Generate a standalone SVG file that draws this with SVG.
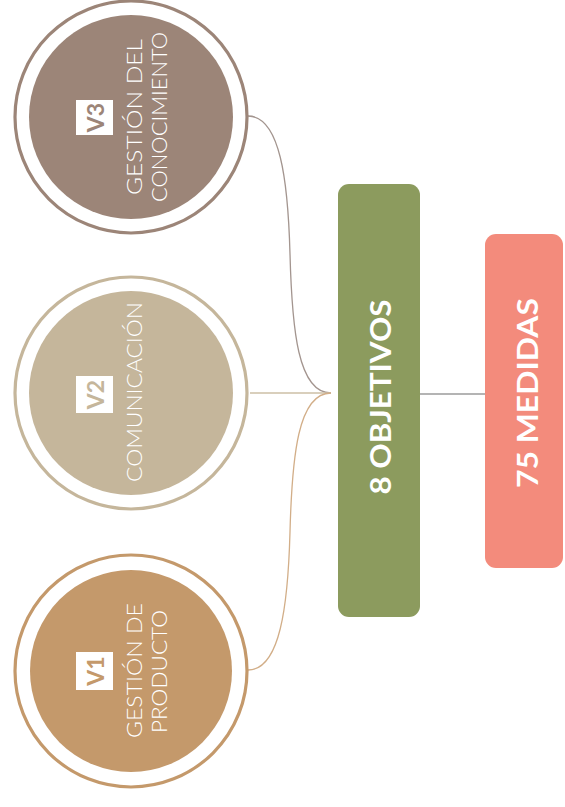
<svg xmlns="http://www.w3.org/2000/svg" width="565" height="807" viewBox="0 0 565 807">
<style>
.ring{fill:none;stroke-width:3.2}
.lbl{font-family:Lato,"Open Sans","Liberation Sans",sans-serif;font-weight:300;font-size:22px;fill:#ffffff;text-anchor:middle}
.tag{font-family:Lato,"Liberation Sans",sans-serif;font-weight:700;font-size:23px;text-anchor:middle}
.big{font-family:Lato,"Liberation Sans",sans-serif;font-weight:700;font-size:28px;fill:#ffffff;text-anchor:middle}
.conn{fill:none;stroke-width:1.3}
</style>
<rect width="565" height="807" fill="#ffffff"/>
<g id="connectors">
<path class="conn" stroke="#a3958f" d="M248,116 C280,116 288,180 290,254 C292,330 298,393 331,393"/>
<path class="conn" stroke="#cdbfa6" d="M250,393 L331,393"/>
<path class="conn" stroke="#d2ae88" d="M248,670 C280,670 288,606 290,532 C292,456 298,393 331,393"/>
<path class="conn" stroke="#9b9b9b" d="M420,394 L485,394"/>
</g>
<g id="v3">
<circle class="ring" cx="131" cy="117" r="116" stroke="#9c8578"/>
<circle cx="131" cy="117" r="102" fill="#9c8578"/>
<rect x="76" y="100" width="37" height="35" fill="#ffffff"/>
<text class="tag" fill="#9c8578" transform="translate(103.5,117.5) rotate(-90)">V3</text>
<text class="lbl" transform="translate(142,117) rotate(-90)" textLength="156" lengthAdjust="spacingAndGlyphs">GESTIÓN DEL</text>
<text class="lbl" transform="translate(167,117) rotate(-90)" textLength="170" lengthAdjust="spacingAndGlyphs">CONOCIMIENTO</text>
</g>
<g id="v2">
<circle class="ring" cx="131" cy="393" r="116" stroke="#c5b69b"/>
<circle cx="131" cy="393" r="102" fill="#c5b69b"/>
<rect x="76" y="376" width="37" height="37" fill="#ffffff"/>
<text class="tag" fill="#c5b69b" transform="translate(103.5,394.5) rotate(-90)">V2</text>
<text class="lbl" transform="translate(142,392) rotate(-90)" textLength="180" lengthAdjust="spacingAndGlyphs">COMUNICACIÓN</text>
</g>
<g id="v1">
<circle class="ring" cx="131" cy="671" r="116" stroke="#c4996b"/>
<circle cx="131" cy="671" r="101" fill="#c4996b"/>
<rect x="76" y="652" width="37" height="38" fill="#ffffff"/>
<text class="tag" fill="#c4996b" transform="translate(103.5,671) rotate(-90)">V1</text>
<text class="lbl" transform="translate(142,670.5) rotate(-90)" textLength="135" lengthAdjust="spacingAndGlyphs">GESTIÓN DE</text>
<text class="lbl" transform="translate(167,671.5) rotate(-90)" textLength="123" lengthAdjust="spacingAndGlyphs">PRODUCTO</text>
</g>
<g id="objetivos">
<rect x="338" y="184" width="82" height="433" rx="11" fill="#8c9b5e"/>
<text class="big" transform="translate(391,397) rotate(-90)" textLength="195" lengthAdjust="spacingAndGlyphs">8 OBJETIVOS</text>
</g>
<g id="medidas">
<rect x="485" y="234" width="78" height="334" rx="11" fill="#f38b7c"/>
<text class="big" transform="translate(538,393) rotate(-90)" textLength="190" lengthAdjust="spacingAndGlyphs">75 MEDIDAS</text>
</g>
</svg>
